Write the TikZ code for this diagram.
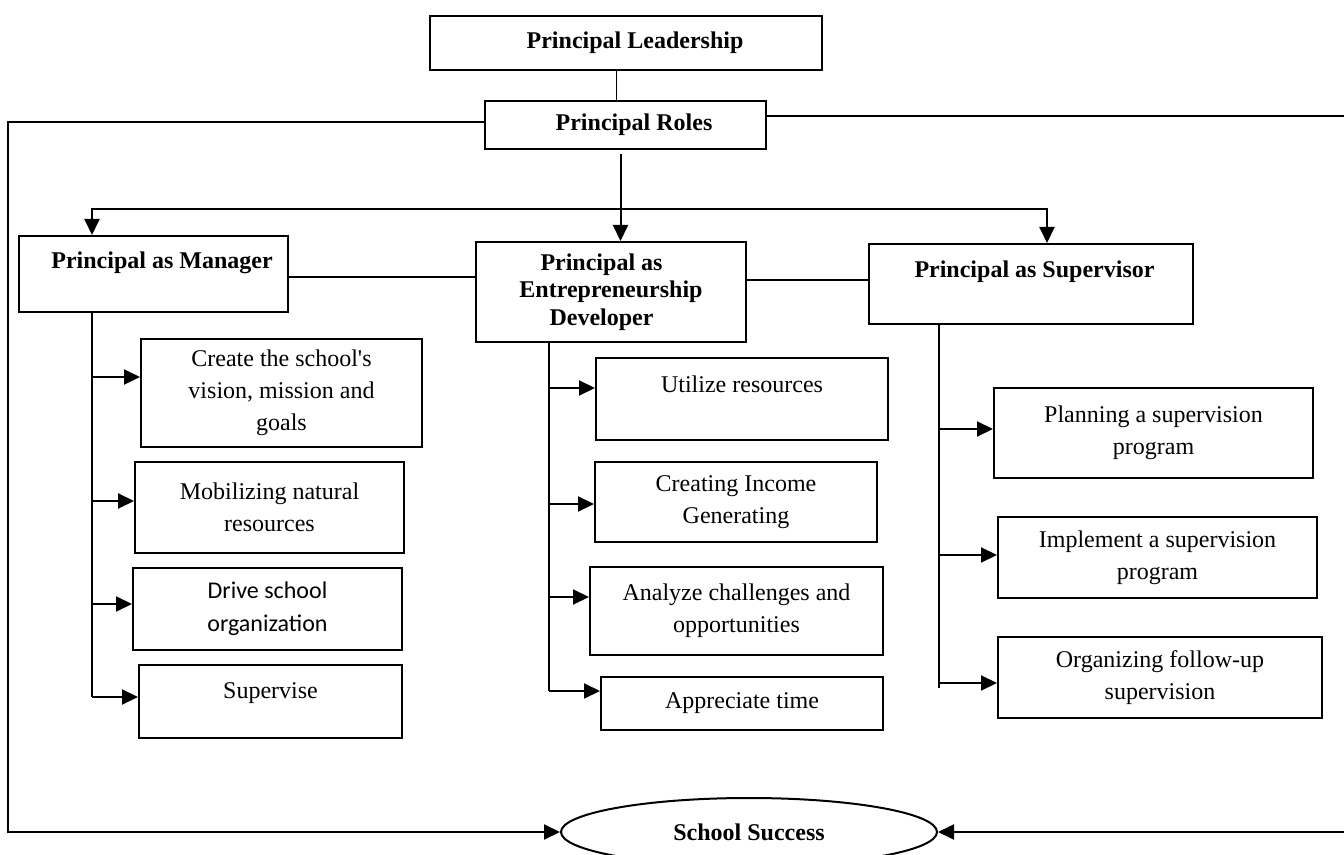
\documentclass[tikz,border=0pt]{standalone}
\usepackage{fontspec}
\setmainfont{Liberation Serif}
\newfontfamily\calibrifont{Carlito}
\usetikzlibrary{arrows.meta,shapes.geometric}

\begin{document}
\begin{tikzpicture}[x=0.5pt,y=-0.5pt,
    box/.style={draw, line width=1pt, inner sep=0pt, align=center,
      font=\fontsize{12}{16}\selectfont},
    headbox/.style={box, font=\bfseries\fontsize{12}{13.8}\selectfont},
    wire/.style={line width=1pt},
    arrow/.style={wire, -{Triangle[length=8pt,width=7.5pt]}}]
  \useasboundingbox (0,0) rectangle (1344,855);

  \node[headbox, minimum width=196pt, minimum height=27pt] (lead) at (626,43) {\hspace*{9pt}Principal Leadership};
  \node[headbox, minimum width=140.5pt, minimum height=24pt] (roles) at (625.5,125) {\hspace*{8.5pt}Principal Roles};

  \node[headbox, minimum width=134.5pt, minimum height=38pt, text height=8pt, text depth=13pt] (mgr) at (153.5,274) {\hspace*{8.5pt}Principal as Manager};
  \node[headbox, minimum width=135pt, minimum height=50pt] (ent) at (611,292) {Principal as\hspace*{9.5pt}\\Entrepreneurship\hspace*{9.5pt}\\Developer\hspace*{9.5pt}};
  \node[headbox, minimum width=162pt, minimum height=40pt, text height=8pt, text depth=14pt] (sup) at (1031,284) {\hspace*{3.5pt}Principal as Supervisor};

  \node[box, minimum width=140.5pt, minimum height=54pt] (m1) at (281.5,393) {Create the school\textquotesingle s\\vision, mission and\\goals};
  \node[box, minimum width=134.5pt, minimum height=45.5pt] (m2) at (269.5,507.5) {Mobilizing natural\\resources};
  \node[box, minimum width=134.5pt, minimum height=41pt, font=\calibrifont\fontsize{12}{16.5}\selectfont] (m3) at (267.5,609) {Drive school\\organization};
  \node[box, minimum width=131.5pt, minimum height=36.5pt, text height=8pt, text depth=11.5pt] (m4) at (270.5,701.5) {Supervise};

  \node[box, minimum width=146pt, minimum height=41pt, text height=8pt, text depth=14.5pt] (e1) at (742,399) {Utilize resources};
  \node[box, minimum width=141pt, minimum height=40pt] (e2) at (736,502) {Creating Income\\Generating};
  \node[box, minimum width=146.5pt, minimum height=44pt] (e3) at (736.5,611) {Analyze challenges and\\opportunities};
  \node[box, minimum width=141pt, minimum height=26.5pt] (e4) at (742,703.5) {Appreciate time};

  \node[box, minimum width=159.5pt, minimum height=45pt] (s1) at (1153.5,433) {Planning a supervision\\program};
  \node[box, minimum width=159.5pt, minimum height=40.5pt] (s2) at (1157.5,557.5) {Implement a supervision\\program};
  \node[box, minimum width=162pt, minimum height=40.5pt] (s3) at (1160,677.5) {Organizing follow-up\\supervision};

  \node[ellipse, draw, line width=1pt, inner sep=0pt, minimum width=188pt, minimum height=34pt,
    font=\bfseries\fontsize{12}{14}\selectfont] (ss) at (749,832) {School Success};

  \coordinate (bus) at (620,209);
  \coordinate (lrail) at (8,480);
  \coordinate (rtop) at (1344,116);
  \coordinate (rbot) at (1344,832);
  \coordinate (mgrin) at ([xshift=-30.75pt]mgr.north);
  \coordinate (supin) at ([xshift=8pt]sup.north);
  \coordinate (entin) at ([xshift=-31pt]ent.south);
  \coordinate (supout) at ([xshift=-46.2pt]sup.south);
  \coordinate (rdown) at ([xshift=-2.5pt,yshift=-2pt]roles.south);

  \path ([xshift=-4.75pt]lead.south) coordinate (ls);
  \draw[wire, line width=0.7pt] (ls) -- (ls |- roles.north);

  \draw[arrow] (rdown) -- (rdown |- ent.north);
  \draw[wire, {Triangle[length=8pt,width=7.5pt]}-{Triangle[length=8pt,width=7.5pt]}] (mgrin) |- (bus) -| (supin);

  \path ([yshift=-1.5pt]mgr.east) coordinate (me);
  \draw[wire] (me) -- (me -| ent.west);
  \path ([yshift=2pt]sup.west) coordinate (sw);
  \draw[wire] (sw) -- (sw -| ent.east);

  \path ([yshift=2.25pt]m4.west) coordinate (mlast);
  \draw[wire] (mgr.south -| mgrin) -- (mlast -| mgrin);
  \foreach \n/\dy in {m1/8,m2/3.25,m3/2.5,m4/2.25} {
    \path ([yshift=\dy pt]\n.west) coordinate (tip);
    \draw[arrow] (tip -| mgrin) -- (tip);
  }

  \path ([yshift=6.25pt]e4.west) coordinate (elast);
  \draw[wire] (ent.south -| entin) -- (elast -| entin);
  \foreach \n/\dy in {e1/5.5,e2/-1,e3/7,e4/6.25} {
    \path ([yshift=\dy pt]\n.west) coordinate (tip);
    \draw[arrow] (tip -| entin) -- (tip);
  }

  \path ([yshift=-5pt]s3.west) coordinate (slast);
  \draw[wire] (sup.south -| supout) -- (slast -| supout);
  \foreach \n/\dy in {s1/2,s2/1.25,s3/-2.75} {
    \path ([yshift=\dy pt]\n.west) coordinate (tip);
    \draw[arrow] (tip -| supout) -- (tip);
  }

  \path ([yshift=1.5pt]roles.west) coordinate (rw);
  \draw[arrow] (rw) -| (lrail) |- (ss.west);
  \path ([yshift=4.5pt]roles.east) coordinate (re);
  \draw[wire] (re) -- (re -| rtop);
  \draw[arrow] (rbot) -- (ss.east);
\end{tikzpicture}
\end{document}
